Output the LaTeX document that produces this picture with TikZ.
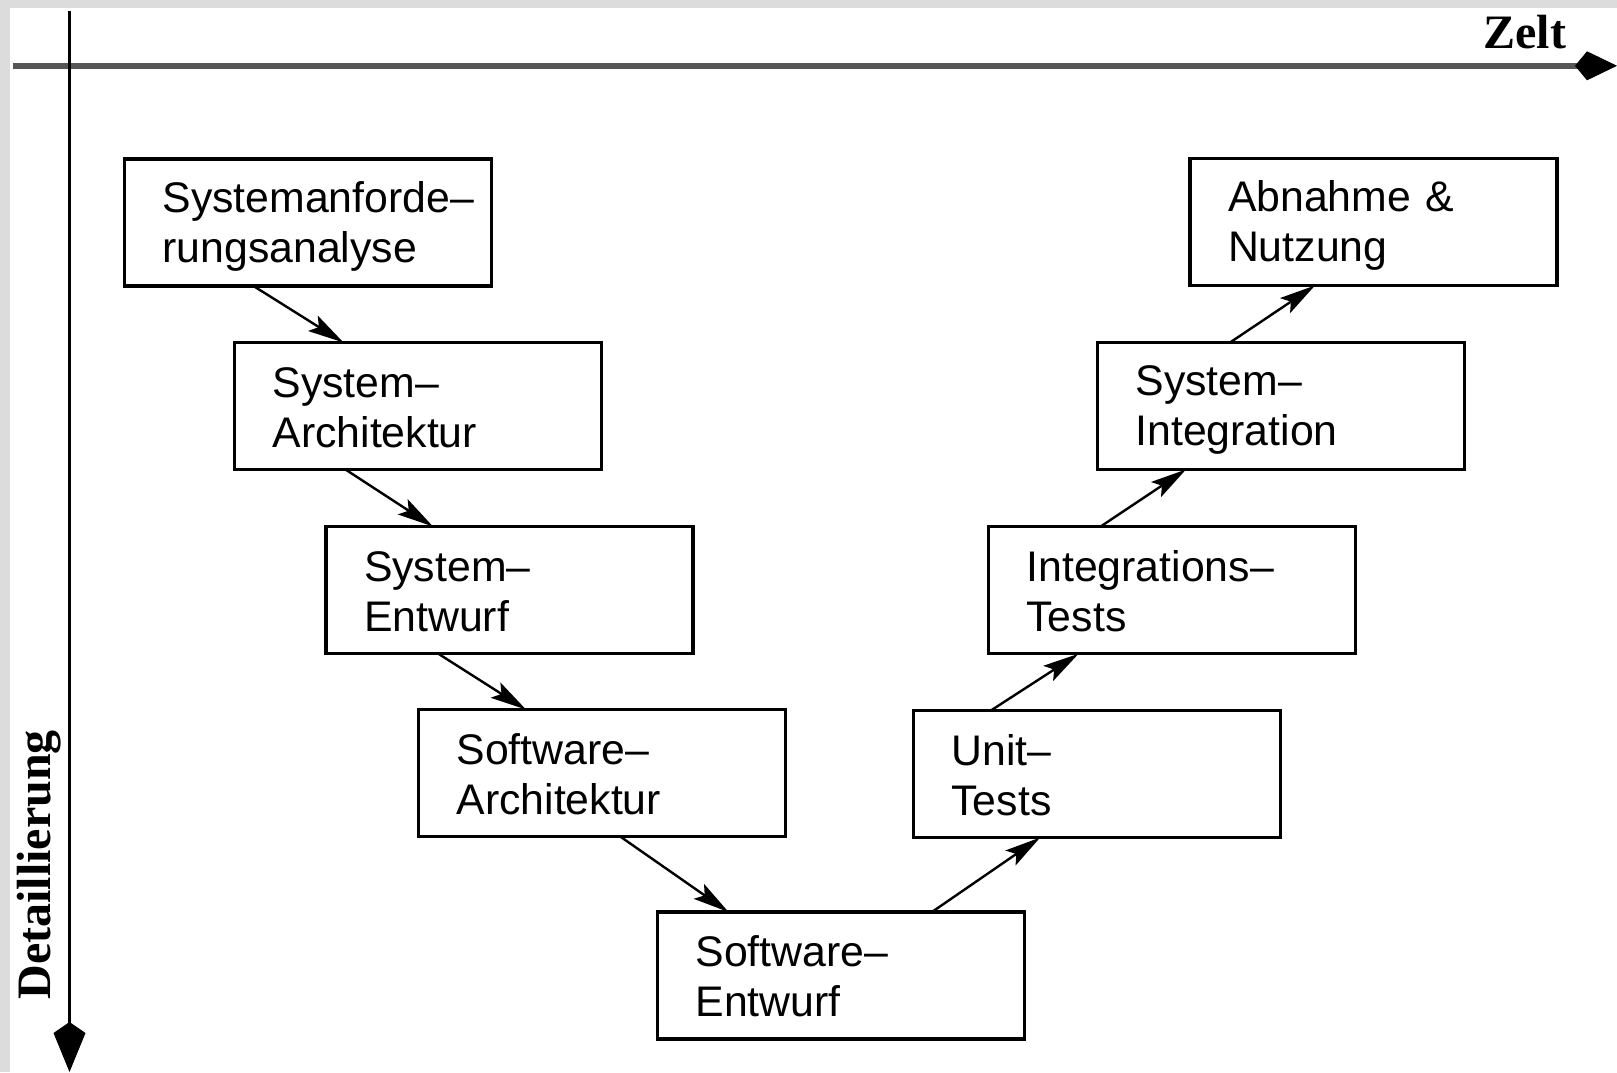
\documentclass[tikz,border=0pt]{standalone}
\usepackage{fontspec}
\setmainfont{Liberation Serif}
\setsansfont{Liberation Sans}
\usetikzlibrary{arrows.meta,calc}
\definecolor{framegray}{RGB}{220,220,220}
\definecolor{axisgray}{RGB}{85,85,85}
\newcommand{\vstr}{\rule[-3pt]{0pt}{22pt}}
\exhyphenpenalty=10000
\hbadness=10000
\hfuzz=20pt
\tikzset{
  phase/.style={draw, line width=1.6pt, outer sep=0pt,
    minimum width=183.5pt, minimum height=63.5pt,
    text width=145.5pt, inner xsep=19pt, inner ysep=2pt, align=left,
    font=\sffamily\fontsize{21.4}{25}\selectfont,
    execute at begin node=\vstr, execute at end node=\vstr},
  flow/.style={line width=1.2pt, -{Stealth[length=18pt,width=9pt,inset=3.5pt]}},
  axislabel/.style={font=\bfseries\fontsize{24}{28}\selectfont, inner sep=0pt}
}
\begin{document}
\begin{tikzpicture}[x=0.5pt,y=-0.5pt]
  \useasboundingbox (0,0) rectangle (1617,1072);
  \fill[framegray] (0,0) rectangle (1617,1072);
  \fill[white] (10,8) rectangle (1617,1072);
  % axes
  \coordinate (tstart) at (13,65.8);
  \coordinate (tend) at (1617,65.8);
  \coordinate (dstart) at (69.5,11);
  \coordinate (dend) at (69.5,1072);
  \draw[axisgray, line width=3.2pt, -{Kite[length=21pt,width=14.5pt,inset=6pt,line width=0.5pt,color=black]}] (tstart) -- (tend);
  \draw[line width=1.5pt, -{Kite[length=25pt,width=16pt,inset=5.5pt,line width=0.5pt]}] (dstart) -- (dend);
  \node[axislabel, anchor=base west] (zeit) at (1483,48.3) {Zelt};
  \node[axislabel, rotate=90, anchor=base west] (detail) at (50,1000) {Detaillierung};
  % left branch
  \node[phase] (sysreq) at (308,222.5) {Systemanforde–\\rungsanalyse};
  \node[phase] (sysarch) at (418,406) {System–\\Architektur};
  \node[phase] (sysdes) at (509.5,590) {System–\\Entwurf};
  \node[phase] (swarch) at (602,773) {Software–\\Architektur};
  \node[phase] (swdes) at (841,975.5) {Software–\\Entwurf};
  % right branch
  \node[phase] (unittest) at (1097,774) {Unit–\\Tests};
  \node[phase] (inttest) at (1172,590.3) {Integrations–\\Tests};
  \node[phase] (sysint) at (1281,406) {System–\\Integration};
  \node[phase] (accept) at (1373.5,222) {Abnahme \&\\Nutzung};
  % connectors
  \draw[flow] ($(sysreq.south west)+(129,0)$) -- ($(sysarch.north west)+(109,0)$);
  \draw[flow] ($(sysarch.south west)+(111,0)$) -- ($(sysdes.north west)+(107,0)$);
  \draw[flow] ($(sysdes.south west)+(112,0)$) -- ($(swarch.north west)+(107.5,0)$);
  \draw[flow] ($(swarch.south west)+(201.7,0)$) -- ($(swdes.north west)+(71,0)$);
  \draw[flow] ($(swdes.north west)+(274.4,0)$) -- ($(unittest.south west)+(126.7,0)$);
  \draw[flow] ($(unittest.north west)+(77.4,0)$) -- ($(inttest.south west)+(90,0)$);
  \draw[flow] ($(inttest.north west)+(111.7,0)$) -- ($(sysint.south west)+(88.5,0)$);
  \draw[flow] ($(sysint.north west)+(132.5,0)$) -- ($(accept.south west)+(125,0)$);
\end{tikzpicture}
\end{document}
